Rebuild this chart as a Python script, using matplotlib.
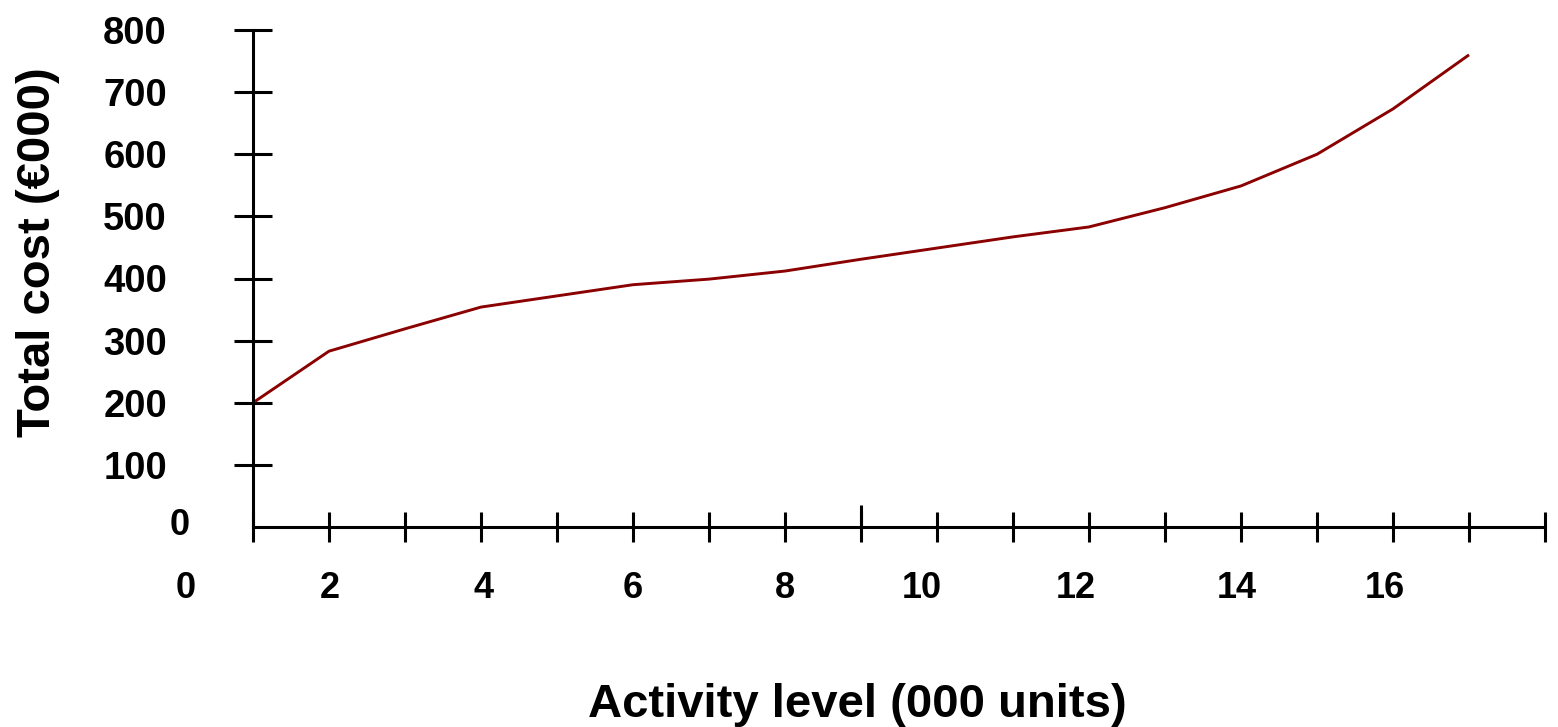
import matplotlib.pyplot as plt
from matplotlib.ticker import FixedLocator

# activity level (000 units) and total cost (EUR 000)
activity = [1, 2, 3, 4, 5, 6, 7, 8, 9, 10, 11, 12, 13, 14, 15, 16, 17]
total_cost = [200, 283, 319, 354, 372, 390, 399, 412, 431, 449, 467, 483, 514, 549, 600, 673, 760]

cost_ticks = [100, 200, 300, 400, 500, 600, 700, 800]
x_labels = ['0', '2', '4', '6', '8', '10', '12', '14', '16']
x_label_pos = [0.12, 2.01, 4.03, 6.0, 8.0, 9.8, 11.83, 13.95, 15.89]

plt.rcParams['font.family'] = ['Liberation Sans', 'DejaVu Sans']
plt.rcParams['font.weight'] = 'bold'

fig = plt.figure(figsize=(15.58, 7.27), dpi=100)
ax = fig.add_axes([253 / 1558, 1 - 527 / 727, 1292 / 1558, 497 / 727])

ax.plot(activity, total_cost, color='#8b0000', lw=2.1, solid_capstyle='butt', clip_on=False)

ax.set_xlim(1, 18)
ax.set_ylim(0, 800)

for side in ['top', 'right']:
    ax.spines[side].set_visible(False)
ax.spines['left'].set_linewidth(2.2)
ax.spines['bottom'].set_linewidth(2.2)

# y axis ticks crossing the spine
ax.set_yticks(cost_ticks)
ax.set_yticklabels([str(v) for v in cost_ticks])
ax.tick_params(axis='y', direction='inout', length=28, width=2.2, pad=48,
               labelsize=27.5)
for lab in ax.get_yticklabels():
    lab.set_fontweight('bold')

# x axis ticks at every unit, one longer mark at 9
ax.set_xticks(range(1, 19))
ax.set_xticklabels([])
ax.tick_params(axis='x', which='major', direction='inout', length=21, width=2.2)
ax.xaxis.remove_overlapping_locs = False
ax.xaxis.set_minor_locator(FixedLocator([9]))
ax.tick_params(axis='x', which='minor', direction='in', length=16, width=2.2)

trans_x = ax.get_xaxis_transform()
for pos, lab in zip(x_label_pos, x_labels):
    ax.text(pos, -0.123, lab, transform=trans_x, ha='center', va='center',
            fontsize=26, fontweight='bold', clip_on=False)

ax.text(-0.0488, 0.004, '0', transform=ax.transAxes, ha='right', va='center',
        fontsize=26, fontweight='bold')

ax.set_xlabel('Activity level (000 units)', fontsize=34, fontweight='bold', va='center')
ax.xaxis.set_label_coords(0.4675, -0.358)
ax.set_ylabel('Total cost (€000)', fontsize=34, fontweight='bold', va='center')
ax.yaxis.set_label_coords(-0.1664, 0.553)

fig.savefig('out.png', dpi=100)
